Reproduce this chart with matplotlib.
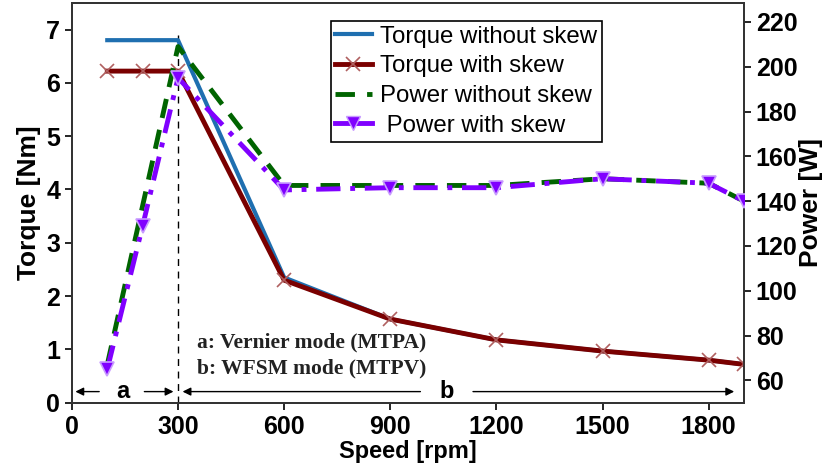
import matplotlib.pyplot as plt
from matplotlib.lines import Line2D

# dados
velocidade = [100, 200, 300, 600, 900, 1200, 1500, 1800, 1900]
torque_sem_skew = [6.8, 6.8, 6.8, 2.35, 1.57, 1.18, 0.97, 0.80, 0.72]
torque_com_skew = [6.22, 6.22, 6.22, 2.30, 1.57, 1.18, 0.97, 0.80, 0.72]

vel_pot_sem = [100, 300, 600, 900, 1200, 1500, 1800, 1900]
potencia_sem_skew = [67, 209, 147, 147, 147, 150, 148, 140]
potencia_com_skew = [65, 129, 195, 145, 146, 146, 150, 148, 140]

fonte = 'Liberation Sans'
plt.rcParams['font.family'] = fonte

fig = plt.figure(figsize=(8.36, 4.75), dpi=100)
ax = fig.add_axes([0.086, 0.152, 0.804, 0.842])
ax2 = ax.twinx()

azul = '#1f6fb0'
vermelho = '#7a0000'
verde = '#006400'
roxo = '#8000ff'

ax.plot(velocidade, torque_sem_skew, color=azul, lw=3, zorder=2)
ax.plot(velocidade, torque_com_skew, color=vermelho, lw=3.5, zorder=3,
        marker='x', ms=10, mew=1.2, mec='#b06060')

ax2.plot(vel_pot_sem, potencia_sem_skew, color=verde, lw=3.5,
         dashes=(4, 2.5), zorder=4)
ax2.plot(velocidade, potencia_com_skew, color=roxo, lw=3.5,
         dashes=(5, 2, 1, 2), marker='v', ms=10, mfc=roxo, mec='#c89bff',
         mew=1.2, zorder=5)

# linha vertical em 300 rpm
ax.plot([300, 300], [0, 6.9], color='black', lw=1, ls=(0, (5, 4)), zorder=1)

# setas das regioes a e b
seta = dict(arrowstyle='-|>', color='black', lw=1, mutation_scale=12)
y_seta = 0.21
ax.annotate('', xy=(2, y_seta), xytext=(85, y_seta), arrowprops=seta)
ax.annotate('', xy=(295, y_seta), xytext=(197, y_seta), arrowprops=seta)
ax.annotate('', xy=(305, y_seta), xytext=(993, y_seta), arrowprops=seta)
ax.annotate('', xy=(1880, y_seta), xytext=(1126, y_seta), arrowprops=seta)
ax.text(145, y_seta, 'a', ha='center', va='center', fontsize=17,
        fontweight='bold')
ax.text(1060, y_seta, 'b', ha='center', va='center', fontsize=17,
        fontweight='bold')

ax.text(355, 1.13, 'a: Vernier mode (MTPA)', fontsize=15.5,
        fontweight='bold', family='Liberation Serif', va='center',
        color='#222222')
ax.text(355, 0.65, 'b: WFSM mode (MTPV)', fontsize=15.5,
        fontweight='bold', family='Liberation Serif', va='center',
        color='#222222')

ax.set_xlim(0, 1900)
ax.set_ylim(0, 7.5)
ax2.set_ylim(50, 228.5)
ax.set_xticks([0, 300, 600, 900, 1200, 1500, 1800])
ax.set_yticks(range(0, 8))
ax2.set_yticks(range(60, 221, 20))

for a in (ax, ax2):
    for s in a.spines.values():
        s.set_linewidth(1.3)
        s.set_color('#333333')
    a.tick_params(direction='out', length=5, width=1.2, labelsize=18)
    for lab in a.get_xticklabels() + a.get_yticklabels():
        lab.set_fontweight('bold')

ax.set_xlabel('Speed [rpm]', fontsize=17, fontweight='bold', labelpad=1)
ax.set_ylabel('Torque [Nm]', fontsize=19, fontweight='bold', labelpad=4)
ax2.set_ylabel('Power [W]', fontsize=19, fontweight='bold', labelpad=1)

linhas = [
    Line2D([], [], color=azul, lw=3),
    Line2D([], [], color=vermelho, lw=3.5, marker='x', ms=10, mew=1.2,
           mec='#b06060'),
    Line2D([], [], color=verde, lw=3.5, dashes=(4, 2.5)),
    Line2D([], [], color=roxo, lw=3.5, marker='v', ms=10, mfc=roxo,
           mec='#c89bff'),
]
nomes = ['Torque without skew', 'Torque with skew', 'Power without skew',
         ' Power with skew']
leg = ax2.legend(linhas, nomes, loc='upper left',
                 bbox_to_anchor=(0.385, 0.955), fontsize=17.3, frameon=True,
                 fancybox=False, edgecolor='black', framealpha=1,
                 handlelength=1.5, handletextpad=0.35, borderpad=0.2,
                 labelspacing=0.32, borderaxespad=0)
leg.get_frame().set_linewidth(1.2)

fig.savefig('out.png', dpi=100)
